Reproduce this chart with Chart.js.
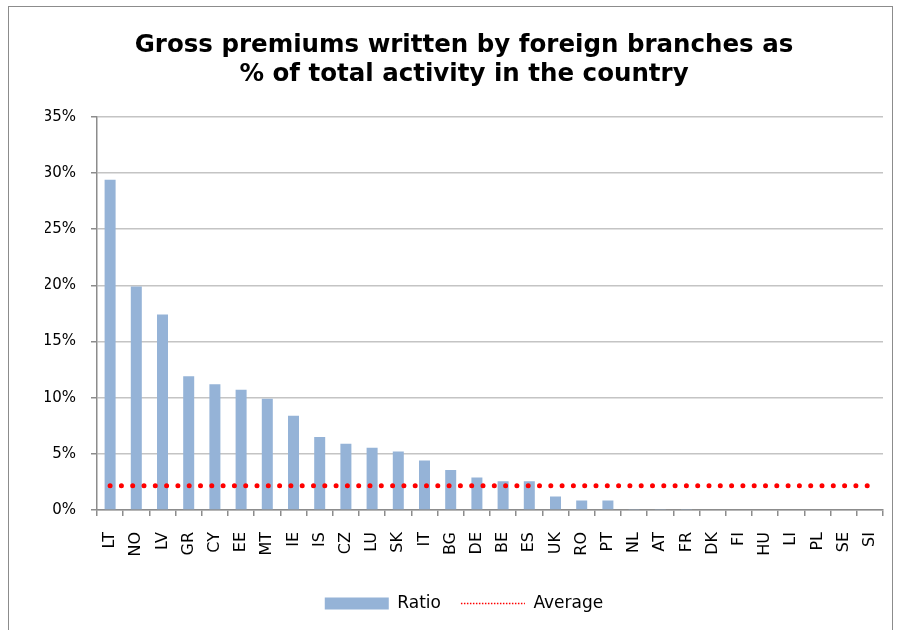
<!DOCTYPE html>
<html>
<head>
<meta charset="utf-8">
<script src="https://cdn.jsdelivr.net/npm/chart.js@4/dist/chart.umd.min.js"></script>
<style>
  html, body { margin: 0; padding: 0; background: #fff; }
  #frame { position: absolute; left: 8px; top: 6px; width: 883px; height: 640px; border: 1px solid #8c8c8c; }
  #wrap { position: absolute; left: 0; top: 0; width: 898px; height: 630px; }
</style>
</head>
<body>
<div id="frame"></div>
<div id="wrap"><canvas id="chart" width="898" height="630"></canvas></div>
<script>
var countries = ["LT", "NO", "LV", "GR", "CY", "EE", "MT", "IE", "IS", "CZ", "LU", "SK", "IT", "BG", "DE",
    "BE", "ES", "UK", "RO", "PT", "NL", "AT", "FR", "DK", "FI", "HU", "LI", "PL", "SE", "SI"];

// ratio in %
var ratio = [29.4, 19.9, 17.4, 11.9, 11.2, 10.7, 9.9, 8.4, 6.5, 5.9, 5.55, 5.2, 4.4, 3.55, 2.9,
    2.55, 2.55, 1.2, 0.85, 0.85, 0.05, 0.05, 0.05, 0, 0, 0, 0, 0, 0, 0];

var averageValue = 2.15;
var average = countries.map(function () { return averageValue; });

var yTicks = [0, 5, 10, 15, 20, 25, 30, 35];

var ctx = document.getElementById("chart").getContext("2d");

var chart = new Chart(ctx, {
    type: 'bar',
    data: {
        labels: countries,
        datasets: [{
            type: 'bar',
            label: 'Ratio',
            data: ratio,
            backgroundColor: '#95b3d7',
            categoryPercentage: 1,
            barPercentage: 0.42,
            order: 2
        }, {
            type: 'line',
            label: 'Average',
            data: average,
            borderColor: '#ff0000',
            borderWidth: 5,
            borderDash: [0, 11.3],
            borderCapStyle: 'round',
            pointRadius: 0,
            fill: false,
            order: 1
        }]
    },
    options: {
        responsive: false,
        animation: false,
        layout: {
            padding: { left: 45, right: 15, top: 9, bottom: 8 }
        },
        plugins: {
            tooltip: { enabled: false },
            title: {
                display: true,
                text: ['Gross premiums written by foreign branches as', '% of total activity in the country'],
                color: '#000',
                font: { family: 'DejaVu Sans', size: 24.5, weight: 'bold', lineHeight: 1.18 },
                padding: { top: 22, bottom: 28 }
            },
            legend: {
                position: 'bottom',
                labels: {
                    color: '#111',
                    font: { family: 'DejaVu Sans', size: 17 },
                    usePointStyle: true,
                    pointStyleWidth: 64,
                    boxHeight: 12,
                    padding: 20,
                    generateLabels: function () {
                        return [{
                            text: 'Ratio', pointStyle: 'rect', fillStyle: '#95b3d7',
                            strokeStyle: '#95b3d7', lineWidth: 0, datasetIndex: 0
                        }, {
                            text: 'Average', pointStyle: 'line', fillStyle: '#ff0000',
                            strokeStyle: '#ff0000', lineWidth: 1.5, lineDash: [1.5, 1.5], datasetIndex: 1
                        }];
                    }
                }
            }
        },
        scales: {
            x: {
                grid: {
                    drawOnChartArea: false,
                    drawTicks: true,
                    tickLength: 6,
                    color: '#8c8c8c',
                    lineWidth: 1.5
                },
                border: { color: '#8c8c8c', width: 1.5 },
                ticks: {
                    color: '#000',
                    font: { family: 'DejaVu Sans', size: 16 },
                    minRotation: 90,
                    maxRotation: 90,
                    autoSkip: false,
                    padding: 16
                },
                afterFit: function (scale) {
                    scale.height = 65;
                    scale.paddingLeft = 0;
                    scale.paddingRight = 0;
                }
            },
            y: {
                min: 0,
                max: 35,
                afterBuildTicks: function (scale) {
                    scale.ticks = yTicks.map(function (v) { return { value: v }; });
                },
                grid: {
                    color: '#c4c4c4',
                    lineWidth: 1.5,
                    tickLength: 6,
                    tickColor: '#8c8c8c'
                },
                border: { color: '#8c8c8c', width: 1.5 },
                ticks: {
                    color: '#000',
                    font: { family: 'DejaVu Sans', size: 15 },
                    padding: 15,
                    callback: function (v) { return v + '%'; }
                },
                afterFit: function (scale) { scale.width = 52; }
            }
        }
    }
});
</script>
</body>
</html>
